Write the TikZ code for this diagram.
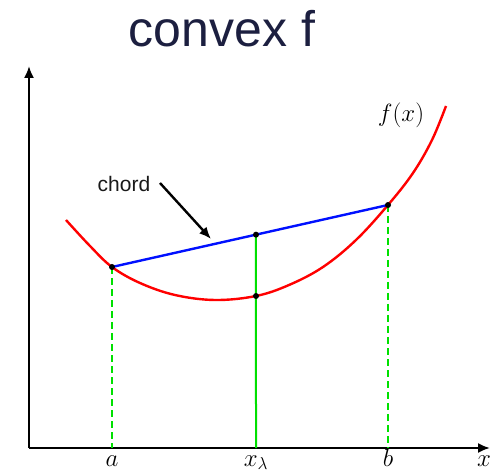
\documentclass[tikz,border=0pt]{standalone}
\usepackage{fontspec}
\setmainfont{Liberation Sans}
\usepackage{tikz}
\usetikzlibrary{positioning,calc,arrows.meta}
\definecolor{titlenavy}{HTML}{1C1F40}
\definecolor{plotred}{HTML}{FF0000}
\definecolor{plotblue}{HTML}{0010FF}
\definecolor{plotgreen}{HTML}{00E000}

\begin{document}
\begin{tikzpicture}[x=1pt, y=-1pt, >={Latex[length=12pt,width=10pt]},
  axisline/.style={draw, line width=2pt, ->},
  curveline/.style={draw=plotred, line width=2.4pt},
  chordline/.style={draw=plotblue, line width=2.4pt},
  guideline/.style={draw=plotgreen, line width=2pt},
  guidedash/.style={guideline, dash pattern=on 7pt off 4pt},
  mathlabel/.style={font=\fontsize{25}{30}\selectfont, inner sep=0pt, anchor=base},
  dot/.style={fill=black}]
\useasboundingbox (0,0) rectangle (493,473);
\node[font=\fontsize{50}{60}\selectfont, text=titlenavy, inner sep=0pt, anchor=base] (title) at (222,47) {convex f};
% axes
\coordinate (O) at (29,448);
\coordinate (ytop) at (29,66);
\coordinate (xend) at (490,448);
\draw[axisline] (O) -- (ytop);
\draw[axisline] (O) -- (xend);
% the function
\draw[curveline] plot[smooth, tension=0.6] coordinates {(66,220) (90,246) (112,267) (140,283) (175,295) (215,300) (256,296) (289,285) (323,267) (356,240) (388,205) (413,173) (432,140) (446,106)};
\coordinate (A) at (112,267);
\coordinate (B) at (388,205);
\coordinate (C) at ($(A)!0.5217!(B)$);
\coordinate (P) at (256,296);
\coordinate (a) at (112,448);
\coordinate (xl) at (256,448);
\coordinate (b) at (388,448);
% chord and guides
\draw[guidedash] (A) -- (a);
\draw[guidedash] (B) -- (b);
\draw[guideline] (C) -- (xl);
\draw[chordline] (A) -- (B);
\foreach \p in {A,B,C,P}
  \fill[dot] (\p) circle (3pt);
% labels
\node[mathlabel] (alabel) at (112,466) {$a$};
\node[mathlabel] (xllabel) at (256,466) {$x_\lambda$};
\node[mathlabel] (blabel) at (388,466) {$b$};
\node[mathlabel] (xlabel) at (484,466) {$x$};
\node[mathlabel] (flabel) at (401,122) {$f(x)$};
\node[font=\fontsize{21}{25}\selectfont, text=black!90, inner sep=0pt] (chordlabel) at (124,184) {chord};
\coordinate (tail) at (160,183);
\coordinate (tip) at (211,239);
\draw[->, line width=2.4pt] (tail) -- (tip);
\end{tikzpicture}
\end{document}
